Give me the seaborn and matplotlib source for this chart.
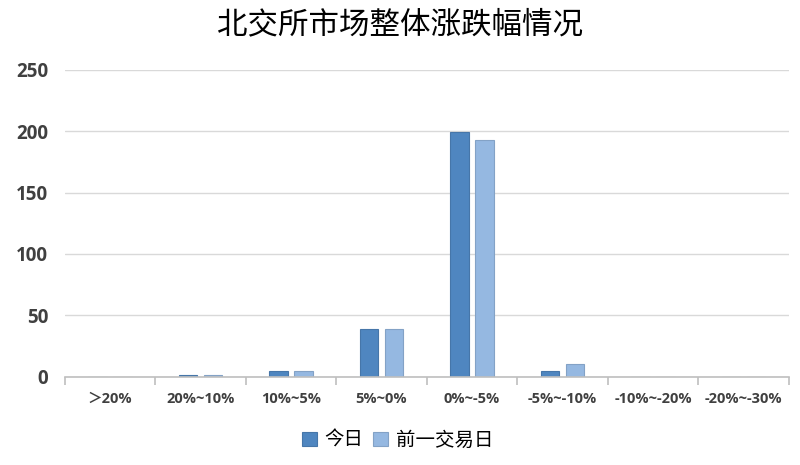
import numpy as np
import pandas as pd
import matplotlib
matplotlib.use("Agg")
import matplotlib.pyplot as plt
import seaborn as sns

categories = ["＞20%", "20%~10%", "10%~5%", "5%~0%", "0%~-5%", "-5%~-10%", "-10%~-20%", "-20%~-30%"]
today = [0, 1, 5, 39, 199, 5, 0, 0]
prev_day = [0, 1, 5, 39, 193, 10, 0, 0]
series_names = ["今日", "前一交易日"]
colors = ["#4F86C0", "#95B8E1"]

df = pd.DataFrame({
    "区间": categories * 2,
    "数量": today + prev_day,
    "系列": [series_names[0]] * len(categories) + [series_names[1]] * len(categories),
})

sns.set_style("white")
plt.rcParams['font.family'] = ['Open Sans', 'Noto Sans CJK SC', 'DejaVu Sans']

fig = plt.figure(figsize=(8, 4.65), dpi=100)
ax = fig.add_axes([0.081, 0.19, 0.905, 0.66])

sns.barplot(data=df, x="区间", y="数量", hue="系列", palette=colors, saturation=1,
            width=0.55, gap=0.25, ax=ax, legend=True)

for patch in ax.patches:
    fc = patch.get_facecolor()
    patch.set_edgecolor(tuple(c * 0.88 for c in fc[:3]))
    patch.set_linewidth(0.8)

ax.set_ylim(0, 250)
ax.set_yticks(range(0, 251, 50))
ax.set_xlim(-0.5, len(categories) - 0.5)
ax.yaxis.grid(True, color="#D9D9D9", linewidth=1)
ax.set_axisbelow(True)
for s in ["top", "right", "left"]:
    ax.spines[s].set_visible(False)
ax.spines["bottom"].set_color("#BFBFBF")
ax.spines["bottom"].set_linewidth(1.2)

ax.set_xticks(np.arange(-0.5, len(categories) + 0.5), minor=True)
ax.tick_params(axis="x", which="minor", length=6, color="#BFBFBF", width=1.2, bottom=True)
ax.tick_params(axis="x", which="major", length=0, pad=11, labelsize=10.5, labelcolor="#404040")
ax.tick_params(axis="y", length=0, pad=12, labelsize=13.5, labelcolor="#404040")
for lab in ax.get_xticklabels() + ax.get_yticklabels():
    lab.set_fontweight("bold")

ax.set_xlabel("")
ax.set_ylabel("")

fig.suptitle("北交所市场整体涨跌幅情况", x=0.5, y=0.98, fontsize=22, color="black",
             family=['Noto Sans CJK SC', 'DejaVu Sans'])

ax.legend(loc="upper center", bbox_to_anchor=(0.46, -0.115), ncol=2, frameon=False,
          prop={"family": ['Noto Sans CJK SC', 'DejaVu Sans'], "size": 14},
          handlelength=0.75, handleheight=0.75, handletextpad=0.4,
          columnspacing=0.5, labelcolor="black", title=None)

fig.savefig("out.png", dpi=100, facecolor="white")
